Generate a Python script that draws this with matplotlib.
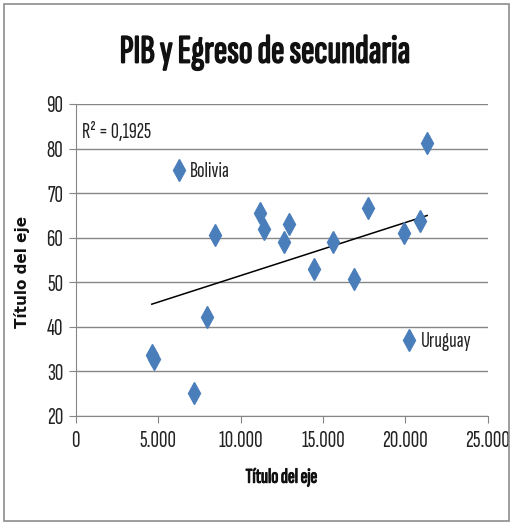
import numpy as np
import matplotlib
matplotlib.use("Agg")
import matplotlib.pyplot as plt
import matplotlib.patheffects as pe
from matplotlib.ticker import FuncFormatter
from matplotlib.patches import Rectangle

plt.rcParams['font.family'] = ['Sofia Sans Extra Condensed', 'Carlito', 'DejaVu Sans']

# PIB per capita (x) vs egreso de secundaria (y)
pib = [21325, 6276, 11197, 11440, 8463, 12917, 12614, 17716, 20875,
       19945, 15589, 14435, 16865, 7995, 4617, 4775, 7205, 20249]
egreso = [81.2, 75.2, 65.5, 61.9, 60.6, 63.1, 58.9, 66.6, 63.8,
          61.1, 58.9, 53.0, 50.7, 42.2, 33.6, 32.7, 25.2, 37.0]
paises = {1: "Bolivia", 17: "Uruguay"}
r2_label = "R² = 0,1925"

x_ticks = [0, 5000, 10000, 15000, 20000, 25000]
y_ticks = [20, 30, 40, 50, 60, 70, 80, 90]

blue = "#4A7EBB"
grid_col = "#868686"
txt_col = "#222222"

# fake bold for the condensed font
bold_small = [pe.withStroke(linewidth=0.8, foreground="#111111")]
bold_big = [pe.withStroke(linewidth=1.2, foreground="#111111")]

fig = plt.figure(figsize=(5.16, 5.26), dpi=100)
fig.patches.append(Rectangle((0.008, 0.01), 0.978, 0.982, transform=fig.transFigure,
                             fill=False, edgecolor="#8c8c8c", linewidth=1.2))
ax = fig.add_axes([0.1467, 0.2097, 0.7985, 0.5926])

ax.plot(pib, egreso, linestyle="none", marker="d", markersize=11,
        color=blue, markeredgecolor=blue, zorder=3)

# linear trendline
xs = np.array(pib)
ys = np.array(egreso)
m, b = np.polyfit(xs, ys, 1)
xl = np.array([xs.min(), xs.max()])
ax.plot(xl, m * xl + b, color="black", linewidth=1.1, zorder=2)

for i, name in paises.items():
    ax.annotate(name, (pib[i], egreso[i]), xytext=(8, -1), textcoords="offset points",
                fontsize=16, va="center", ha="left", color=txt_col)

ax.text(0.015, 0.91, r2_label, transform=ax.transAxes, fontsize=16, color=txt_col,
        va="center")

ax.set_xlim(0, 25000)
ax.set_ylim(20, 90)
ax.set_xticks(x_ticks)
ax.set_yticks(y_ticks)
ax.xaxis.set_major_formatter(FuncFormatter(lambda v, p: "0" if v == 0 else f"{int(v):,}".replace(",", ".")))
ax.yaxis.grid(True, color=grid_col, linewidth=1.0)
ax.set_axisbelow(True)
for s in ["top", "right"]:
    ax.spines[s].set_visible(False)
ax.spines["left"].set_color(grid_col)
ax.spines["bottom"].set_color(grid_col)
ax.tick_params(axis="both", colors=grid_col, labelcolor=txt_col, labelsize=17, length=5)
ax.tick_params(axis="x", pad=5)
ax.tick_params(axis="y", pad=4)

ax.set_xlabel("Título del eje", fontsize=15, color="#111111", path_effects=bold_small)
ax.xaxis.set_label_coords(0.5, -0.17)
ax.set_ylabel("Título del eje", fontsize=11, fontweight="bold", color="#111111",
              family=["DejaVu Sans"])
ax.yaxis.set_label_coords(-0.111, 0.46)
fig.text(0.513, 0.9, "PIB y Egreso de secundaria", ha="center", va="center",
         fontsize=29, color="#111111", path_effects=bold_big)

fig.savefig("out.png", dpi=100)
